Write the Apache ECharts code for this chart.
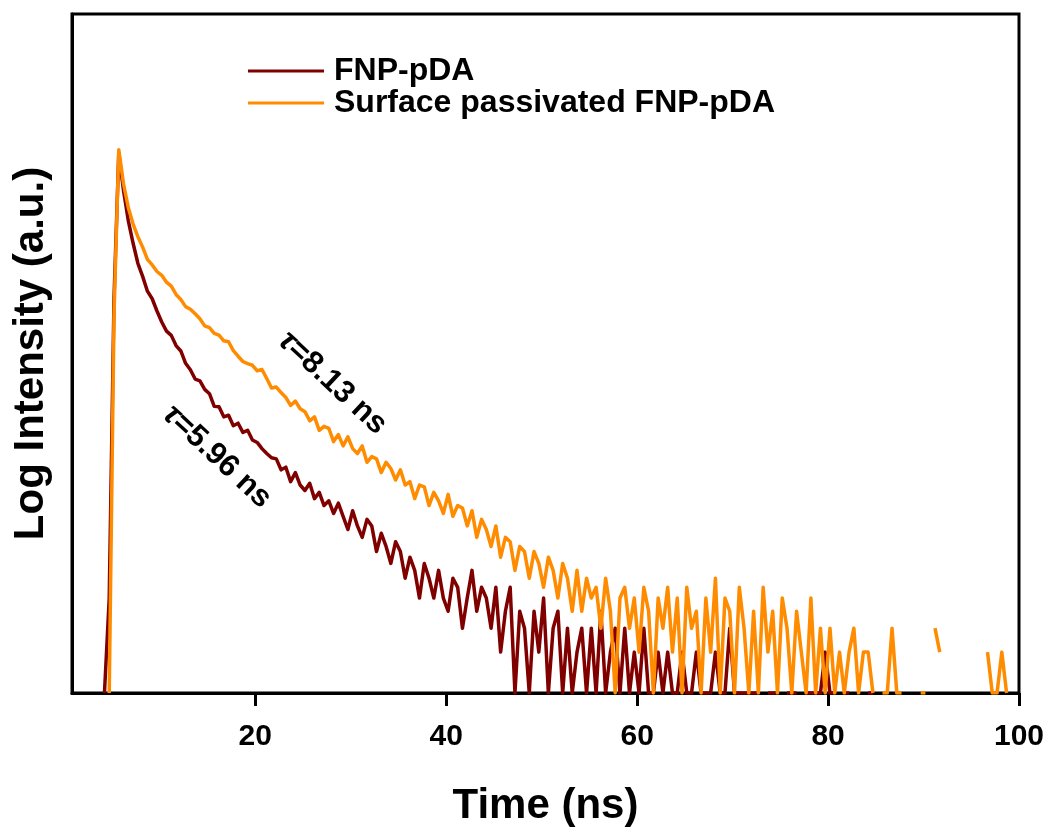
<!DOCTYPE html>
<html>
<head>
<meta charset="utf-8">
<script src="https://cdn.jsdelivr.net/npm/echarts@6/dist/echarts.min.js"></script>
<style>
  html, body { margin: 0; padding: 0; background: #fff; }
  #main { width: 1051px; height: 832px; }
</style>
</head>
<body>
<div id="main"></div>
<script>
// time channels (ns)
var timeNs = [
  4.2,4.7,5.2,5.7,6.2,6.7,7.2,7.7,8.2,8.7,
  9.2,9.7,10.2,10.7,11.2,11.7,12.2,12.7,13.2,13.7,
  14.2,14.7,15.2,15.7,16.2,16.7,17.2,17.7,18.2,18.7,
  19.2,19.7,20.2,20.7,21.2,21.7,22.2,22.7,23.2,23.7,
  24.2,24.7,25.2,25.7,26.2,26.7,27.2,27.7,28.2,28.7,
  29.2,29.7,30.2,30.7,31.2,31.7,32.2,32.7,33.2,33.7,
  34.2,34.7,35.2,35.7,36.2,36.7,37.2,37.7,38.2,38.7,
  39.2,39.7,40.2,40.7,41.2,41.7,42.2,42.7,43.2,43.7,
  44.2,44.7,45.2,45.7,46.2,46.7,47.2,47.7,48.2,48.7,
  49.2,49.7,50.2,50.7,51.2,51.7,52.2,52.7,53.2,53.7,
  54.2,54.7,55.2,55.7,56.2,56.7,57.2,57.7,58.2,58.7,
  59.2,59.7,60.2,60.7,61.2,61.7,62.2,62.7,63.2,63.7,
  64.2,64.7,65.2,65.7,66.2,66.7,67.2,67.7,68.2,68.7,
  69.2,69.7,70.2,70.7,71.2,71.7,72.2,72.7,73.2,73.7,
  74.2,74.7,75.2,75.7,76.2,76.7,77.2,77.7,78.2,78.7,
  79.2,79.7,80.2,80.7,81.2,81.7,82.2,82.7,83.2,83.7,
  84.2,84.7,85.2,85.7,86.2,86.7,87.2,87.7,88.2,88.7,
  89.2,89.7,90.2,90.7,91.2,91.7,92.2,92.7,93.2,93.7,
  94.2,94.7,95.2,95.7,96.2,96.7,97.2,97.7,98.2,98.7,
  99.2,99.7
];

// counts, FNP-pDA (null = no counts)
var fnpPda = [
  1,5,800,9500,5000,3000,2050,1460,1170,910,
  800,650,540,462,430,362,330,268,240,205,
  199,172,160,129,128,108,111,93,97,83,
  86,73,70,63,58,54,53,44,46,36,
  42,34,31,35,27,30,24,26,21,25,
  20,16,22,17,14,19,17,11,15,12,
  9,13,11,7,10,8,5,9,7,5,
  8,5,4,7,6,3,5,8,4,6,
  5,3,6,2,4,6,1,4,3,1,
  4,2,5,1,3,4,1,3,1,2,
  3,1,3,1,4,1,2,3,1,3,
  1,2,1,3,1,1,2,1,2,1,
  1,2,1,1,2,1,1,1,2,1,
  1,3,1,1,1,1,1,1,null,1,
  1,1,null,1,1,1,null,1,1,1,
  1,2,1,1,null,1,1,null,1,null,
  1,1,null,1,null,null,1,null,1,null,
  null,1,null,null,1,null,null,null,1,null,
  null,1,null,null,null,1,null,null,1,null,
  1,null
];

// counts, surface passivated FNP-pDA
var passivated = [
  null,1,600,10000,5600,3750,2840,2290,1920,1560,
  1420,1270,1190,1060,990,860,790,700,670,620,
  570,505,490,445,432,392,386,332,302,276,
  266,259,236,241,207,176,179,163,150,131,
  141,124,118,101,108,86,92,89,71,80,
  66,77,63,58,66,50,55,53,42,50,
  45,37,44,34,36,27,34,33,24,30,
  26,21,29,20,24,23,17,22,14,19,
  16,12,17,10,14,13,8,12,11,7,
  11,9,6,10,8,5,9,7,4,8,
  4,7,5,6,3,7,4,1,5,6,
  3,5,2,6,4,1,5,3,6,2,
  5,1,6,3,4,1,5,2,7,1,
  5,4,1,6,3,1,4,1,6,2,
  4,1,5,3,1,4,2,1,5,1,
  3,1,3,1,2,1,2,3,1,2,
  2,1,null,1,1,3,1,1,null,null,
  null,1,1,null,3,2,null,null,null,null,
  null,null,null,null,null,2,1,1,2,1,
  null,null
];

var seriesNames = ['FNP-pDA', 'Surface passivated FNP-pDA'];
var xTicks = [20, 40, 60, 80, 100];
// lifetime labels: [text, time, counts at label centre]
var tauLabels = [
  ['8.13 ns', 28.1, 192],
  ['5.96 ns', 16.0, 55]
];

var font = 'Arial, "Liberation Sans", sans-serif';

function pairs(vals) {
  return timeNs.map(function (t, i) { return [t, vals[i]]; });
}

var chart = echarts.init(document.getElementById('main'));

var option = {
  animation: false,
  backgroundColor: '#fff',
  color: ['#800000', '#FF8C00'],
  grid: {
    left: 72, right: 32, top: 14, bottom: 139,
    show: true, borderColor: '#000', borderWidth: 3
  },
  legend: {
    data: seriesNames,
    orient: 'vertical',
    left: 243, top: 50,
    icon: 'rect',
    itemWidth: 76, itemHeight: 3,
    itemGap: 0,
    textStyle: {
      fontFamily: font, fontWeight: 'bold', fontSize: 32,
      color: '#000', lineHeight: 32, padding: [0, 0, 0, 5]
    }
  },
  xAxis: {
    type: 'value',
    min: 0.8, max: 100,
    name: 'Time (ns)',
    nameLocation: 'middle',
    nameGap: 92,
    nameTextStyle: { fontFamily: font, fontWeight: 'bold', fontSize: 42, color: '#000' },
    axisLine: { show: true, lineStyle: { color: '#000', width: 3 } },
    axisTick: { show: true, inside: false, length: 13, customValues: xTicks,
      lineStyle: { color: '#000', width: 3 } },
    axisLabel: { customValues: xTicks, margin: 29, fontFamily: font, fontWeight: 'bold', fontSize: 30, color: '#000' },
    splitLine: { show: false }
  },
  yAxis: {
    type: 'log',
    logBase: 10,
    min: 1, max: 100000,
    name: 'Log Intensity (a.u.)',
    nameLocation: 'middle',
    nameGap: 20,
    nameTextStyle: { fontFamily: font, fontWeight: 'bold', fontSize: 42, color: '#000' },
    axisLine: { show: true, lineStyle: { color: '#000', width: 3 } },
    axisTick: { show: false },
    axisLabel: { show: false },
    splitLine: { show: false }
  },
  series: [
    {
      name: seriesNames[0], type: 'line',
      data: pairs(fnpPda), showSymbol: false, symbol: 'none',
      connectNulls: false, lineStyle: { width: 3.5, join: 'round' }
    },
    {
      name: seriesNames[1], type: 'line',
      data: pairs(passivated), showSymbol: false, symbol: 'none',
      connectNulls: false, lineStyle: { width: 3.5, join: 'round' }
    }
  ]
};

chart.setOption(option);

// rotated lifetime labels anchored at data coordinates
var graphics = tauLabels.map(function (d) {
  var p = chart.convertToPixel({ gridIndex: 0 }, [d[1], d[2]]);
  return {
    type: 'text',
    x: p[0], y: p[1],
    rotation: -43 * Math.PI / 180,
    style: {
      text: '{i|τ}=' + d[0],
      align: 'center', verticalAlign: 'middle',
      font: 'bold 31px ' + font,
      fill: '#000',
      rich: { i: { fontStyle: 'italic', fontWeight: 'bold', fontSize: 31, fontFamily: font } }
    }
  };
});
chart.setOption({ graphic: graphics });
window.addEventListener('resize', chart.resize);
</script>
</body>
</html>
